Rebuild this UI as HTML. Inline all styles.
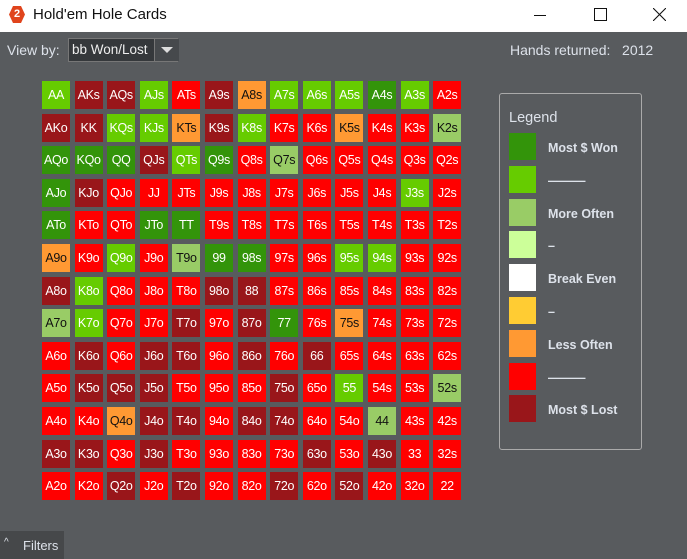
<!DOCTYPE html>
<html><head><meta charset="utf-8">
<style>
body{margin:0;width:687px;height:559px;overflow:hidden;background:#585b5e;font-family:"Liberation Sans",sans-serif;position:relative}
.abs{position:absolute}
#title{left:0;top:0;width:687px;height:32px;background:#fff}
.cell{position:absolute;width:28px;height:28px;font-size:12.5px;line-height:28px;text-align:center;letter-spacing:-0.3px;box-sizing:border-box}
.sw{position:absolute;left:509px;width:27px;height:27px}
.lt{position:absolute;left:548px;color:#dde2ea;font-size:12.5px;font-weight:bold}
</style></head><body>
<div id="title" class="abs">
 <div class="abs" style="left:9px;top:6px;width:16px;height:17px;background:#e0441c;clip-path:polygon(25% 0,75% 0,100% 50%,75% 100%,25% 100%,0 50%);color:#fff;font-size:11px;font-weight:bold;text-align:center;line-height:17px">2</div>
 <div class="abs" style="left:33px;top:6px;font-size:15px;color:#111">Hold'em Hole Cards</div>
 <div class="abs" style="left:534px;top:15px;width:12px;height:1px;background:#111"></div>
 <div class="abs" style="left:594px;top:8px;width:11px;height:11px;border:1px solid #111"></div>
 <svg class="abs" style="left:653px;top:8px" width="13" height="13"><path d="M0 0L13 13M13 0L0 13" stroke="#111" stroke-width="1.1"/></svg>
</div>
<div class="abs" style="left:7px;top:42px;color:#dde2ea;font-size:14px">View by:</div>
<div class="abs" style="left:68px;top:38px;width:110px;height:24px;border:1px solid #777;background:#35383b;box-sizing:border-box">
 <div class="abs" style="left:3px;top:3px;color:#eee;font-size:13.5px">bb Won/Lost</div>
 <div class="abs" style="left:85px;top:0;width:24px;height:22px;background:#46494c;border-left:1px solid #777"><div style="margin:8px auto 0;width:0;height:0;border-left:6px solid transparent;border-right:6px solid transparent;border-top:6px solid #ddd"></div></div>
</div>
<div class="abs" style="left:510px;top:42px;color:#dde2ea;font-size:14px">Hands returned:&nbsp;&nbsp; 2012</div>
<div id="grid"></div>
<div class="abs" style="left:499px;top:93px;width:143px;height:357px;border:1px solid #aaa;border-radius:3px;box-sizing:border-box">
 <div class="abs" style="left:9px;top:16px;color:#dde2ea;font-size:14.5px">Legend</div>
</div>
<div id="legend"></div>
<div class="abs" style="left:0;top:531px;width:64px;height:28px;background:#46484a;color:#dde2ea;font-size:13px">
 <span style="position:absolute;left:4px;top:6px;font-size:10px">^</span><span style="position:absolute;left:23px;top:7px">Filters</span>
</div>
<script>
const ranks=['A','K','Q','J','T','9','8','7','6','5','4','3','2'];
const colors={1:'#33940a',2:'#66cc00',3:'#99cc66',6:'#ff9933',7:'#ff0000',8:'#99161a'};
const row0=[2,8,8,2,7,8,6,2,2,2,1,2,7];
const row1=[8,8,2,2,6,8,2,7,7,6,7,7,3];
const row2=[1,1,1,8,2,1,7,3,7,7,7,7,7];
const row3=[1,8,7,7,7,7,7,7,7,7,7,2,7];
const row4=[1,7,7,1,1,7,7,7,7,7,7,7,7];
const row5=[6,7,2,7,3,1,1,7,7,2,2,7,7];
const row6=[8,2,7,7,7,8,8,7,7,7,7,7,7];
const row7=[3,2,7,7,8,7,8,1,7,6,7,7,7];
const row8=[7,8,7,8,8,7,8,7,8,7,7,7,7];
const row9=[7,8,8,8,7,7,7,8,7,2,7,7,3];
const row10=[7,7,6,8,8,7,8,8,7,7,3,7,7];
const row11=[8,8,7,8,7,7,7,7,8,7,8,7,7];
const row12=[7,7,8,7,8,7,7,8,7,8,7,7,7];
const rows=[row0,row1,row2,row3,row4,row5,row6,row7,row8,row9,row10,row11,row12];
const legendColors=['#33940a','#66cc00','#99cc66','#ccff99','#ffffff','#ffcc33','#ff9933','#ff0000','#99161a'];
const legendLabels=['Most $ Won','———','More Often','–','Break Even','–','Less Often','———','Most $ Lost'];
const g=document.getElementById('grid');
for(let r=0;r<13;r++)for(let c=0;c<13;c++){
 const d=document.createElement('div');
 d.className='cell';
 const lab=r===c?ranks[r]+ranks[c]:(c>r?ranks[r]+ranks[c]+'s':ranks[c]+ranks[r]+'o');
 d.textContent=lab;
 const v=rows[r][c];
 d.style.left=(42+c*32.6)+'px';d.style.top=(81+r*32.6)+'px';
 d.style.background=colors[v];
 d.style.color=(v===3||v===6)?'#111':'#fff';
 
 
 g.appendChild(d);
}
const L=document.getElementById('legend');
legendColors.forEach((col,i)=>{
 const s=document.createElement('div');s.className='sw';s.style.top=(133+i*32.8)+'px';s.style.background=col;
 
 
 L.appendChild(s);
 const t=document.createElement('div');t.className='lt';t.style.top=(141+i*32.8)+'px';t.textContent=legendLabels[i];
 
 
 L.appendChild(t);
});
</script>
</body></html>
